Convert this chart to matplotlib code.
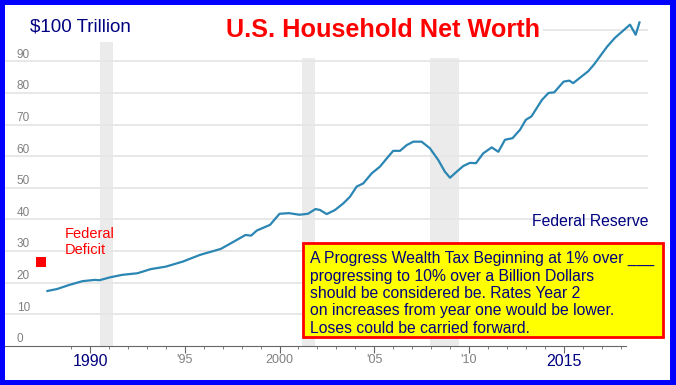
import matplotlib
matplotlib.use("Agg")
import matplotlib.pyplot as plt
from matplotlib.patches import Rectangle

plt.rcParams['font.family'] = ['Liberation Sans', 'DejaVu Sans']

# Household net worth, trillions of dollars
years = [1987.75, 1988.25, 1988.9, 1989.6, 1990.25, 1990.5, 1991.05, 1991.7,
         1992.5, 1993.2, 1994.0, 1994.9, 1995.8, 1996.9, 1997.5, 1998.2,
         1998.5, 1998.8, 1999.5, 2000.0, 2000.5, 2001.05, 2001.5, 2001.9,
         2002.14, 2002.49, 2002.93, 2003.37, 2003.72, 2004.07, 2004.42, 2004.87,
         2005.3, 2005.66, 2006.0, 2006.36, 2006.71, 2007.06, 2007.5, 2007.94,
         2008.38, 2008.73, 2009.0, 2009.35, 2009.7, 2010.05, 2010.37, 2010.75,
         2011.2, 2011.55, 2011.9, 2012.3, 2012.7, 2013.0, 2013.3, 2013.85,
         2014.2, 2014.5, 2015.0, 2015.3, 2015.5, 2016.3, 2016.6, 2017.3,
         2017.7, 2018.5, 2018.8, 2019.0]
net_worth = [17.4, 18.0, 19.3, 20.5, 20.9, 20.8, 21.7, 22.5,
             23.0, 24.3, 25.1, 26.7, 28.8, 30.7, 32.7, 35.1,
             34.9, 36.5, 38.3, 41.8, 42.0, 41.5, 41.8, 43.3,
             43.0, 41.7, 43.0, 45.1, 47.2, 50.4, 51.4, 54.6,
             56.7, 59.3, 61.7, 61.7, 63.5, 64.6, 64.6, 62.5,
             58.8, 55.1, 53.2, 55.1, 56.9, 57.9, 57.8, 60.9,
             62.8, 61.4, 65.2, 65.7, 68.4, 71.5, 72.6, 77.8,
             80.0, 80.2, 83.6, 83.9, 83.1, 86.9, 89.0, 94.7,
             97.4, 101.6, 98.4, 102.3]

# recessions (start, end, top of shading)
rec_start = [1990.5, 2001.2, 2007.92]
rec_end = [1991.2, 2001.85, 2009.5]
rec_top = [96, 91, 91]

y_ticks = [0, 10, 20, 30, 40, 50, 60, 70, 80, 90]
x_major = [1990, 1995, 2000, 2005, 2010, 2015]
x_labels = ['1990', "'95", '2000', "'05", "'10", '2015']
x_minor = list(range(1989, 2019))

box_lines = ["A Progress Wealth Tax Beginning at 1% over ___",
             "progressing to 10% over a Billion Dollars",
             "should be considered be. Rates Year 2",
             "on increases from year one would be lower.",
             "Loses could be carried forward."]

W, H = 676, 385
def fx(px):
    return px / W
def fy(py):
    return 1 - py / H

fig = plt.figure(figsize=(W / 100, H / 100), dpi=100)
fig.patch.set_facecolor('#0000ff')
fig.add_artist(Rectangle((fx(5), fy(380)), 665 / W, 375 / H, transform=fig.transFigure,
                         facecolor='white', edgecolor='none', zorder=-1))

ymax = 105
top_px = 346 - ymax * 3.163
ax = fig.add_axes([fx(5), fy(346), 643 / W, (346 - top_px) / H])
ax.set_facecolor('none')
ax.set_xlim(1985.51, 2019.45)
ax.set_ylim(0, ymax)

for s, e, t in zip(rec_start, rec_end, rec_top):
    ax.axvspan(s, e, ymin=0, ymax=t / ymax, color='#ebebeb', lw=0, zorder=0)

for v in y_ticks[1:] + [100]:
    ax.axhline(v, color='#e6e6e6', lw=1.3, zorder=0.5)
for v in y_ticks:
    ax.text(0.018, v + 2.1, str(v), transform=ax.get_yaxis_transform(),
            ha='left', va='center', fontsize=8.5, color='#808080')

ax.plot(years, net_worth, color='#2b86b3', lw=1.6, zorder=3)

for side in ['top', 'right', 'left']:
    ax.spines[side].set_visible(False)
ax.spines['bottom'].set_color('#666666')
ax.spines['bottom'].set_bounds(1985.51, 2018.3)
ax.set_yticks([])
ax.set_xticks(x_major)
ax.set_xticklabels(x_labels)
ax.set_xticks(x_minor, minor=True)
ax.tick_params(axis='x', which='major', length=5, color='#666666', pad=1)
ax.tick_params(axis='x', which='minor', length=2.5, color='#666666')
for lab in ax.get_xticklabels():
    if lab.get_text() in ('1990', '2015'):
        lab.set_color('#000080')
        lab.set_fontsize(11.5)
    else:
        lab.set_color('#808080')
        lab.set_fontsize(9)

# white-out behind the headings
fig.add_artist(Rectangle((fx(5), fy(42)), 538 / W, 37 / H, transform=fig.transFigure,
                         facecolor='white', edgecolor='none', zorder=1))
fig.text(fx(30), fy(27), '$100 Trillion', color='#000080', fontsize=13.5,
         ha='left', va='center', zorder=3)
fig.text(fx(383.5), fy(30), 'U.S. Household Net Worth', color='#ff0000', fontsize=18.2,
         fontweight='bold', ha='center', va='center', zorder=3)
fig.text(fx(648), fy(222), 'Federal Reserve', color='#000080', fontsize=11.3,
         ha='right', va='center', zorder=3)
fig.text(fx(65), fy(242), 'Federal\nDeficit', color='#ff0000', fontsize=10.5,
         ha='left', va='center', linespacing=1.15, zorder=3)
fig.add_artist(Rectangle((fx(36), fy(267)), 10 / W, 10 / H, transform=fig.transFigure,
                         facecolor='#ff0000', edgecolor='none', zorder=3))

fig.add_artist(Rectangle((fx(303), fy(337)), 360 / W, 94 / H, transform=fig.transFigure,
                         facecolor='#ffff00', edgecolor='#ff0000', lw=2, zorder=5))
fig.text(fx(310), fy(251), '\n'.join(box_lines), color='#000080', fontsize=11.3,
         ha='left', va='top', linespacing=1.2, zorder=6)

fig.savefig('out.png', dpi=100, facecolor=fig.get_facecolor())
